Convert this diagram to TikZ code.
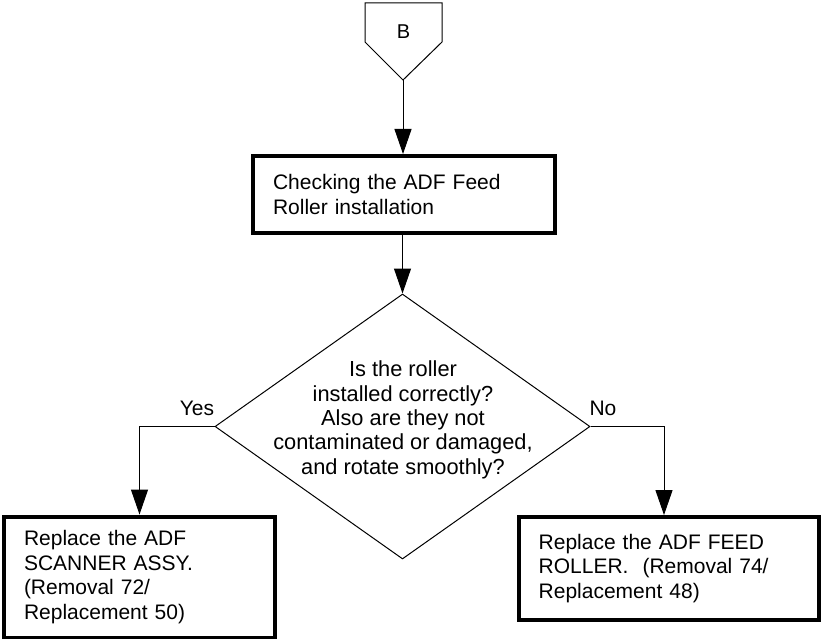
\documentclass[tikz,border=0pt]{standalone}
\usepackage{fontspec}
\setmainfont{Liberation Sans}
\usetikzlibrary{arrows.meta,shapes.geometric,calc}
\begin{document}
\begin{tikzpicture}[x=1pt,y=-1pt,
  every node/.style={font=\fontsize{21}{24.5}\selectfont},
  procbox/.style={draw,line width=4pt,inner xsep=20pt,inner ysep=0pt,align=left},
  flow/.style={line width=1pt,-{Triangle[length=25pt,width=17pt]}},
  plain/.style={line width=1pt},
  lbl/.style={anchor=base}
]
\useasboundingbox (0,0) rectangle (821,639);
% off-page connector B
\coordinate (btl) at (365,3);
\coordinate (btr) at (442,3);
\coordinate (bsr) at (442,42);
\coordinate (btip) at (403,80);
\coordinate (bsl) at (365,42);
\draw[plain] (btl) -- (btr) -- (bsr) -- (btip) -- (bsl) -- cycle;
\node[font=\fontsize{20}{22}\selectfont] (blbl) at (403.5,31.2) {B};
% boxes
\node[procbox, minimum width=302pt, minimum height=77pt, text width=262pt] (check) at (404,194.5) {Checking the ADF Feed\\Roller installation};
\node[draw, diamond, line width=1pt, minimum width=375pt, minimum height=265pt, inner sep=0pt] (dia) at (402.5,426.5) {};
\node[align=center, font=\fontsize{21.8}{24.3}\selectfont] (q) at (403,419.8) {Is the roller\\installed correctly?\\Also are they not\\contaminated or damaged,\\and rotate smoothly?};
\node[procbox, minimum width=271pt, minimum height=121.5pt, text width=231pt] (lbox) at (139.5,577.3) {Replace the ADF\\SCANNER ASSY.\\(Removal 72/\\Replacement 50)};
\node[procbox, minimum width=300pt, minimum height=102.5pt, text width=260pt] (rbox) at (668.7,568.3) {Replace the ADF FEED\\ROLLER.\ \ (Removal 74/\\Replacement 48)};
% connectors
\draw[flow] (btip) -- (btip |- check.north);
\draw[flow] (dia.north |- check.south) -- (dia.north);
\draw[flow] (dia.west) -| (lbox.north);
\coordinate (nbend) at (664,426.5);
\draw[flow] (dia.east) -- (nbend) -- (nbend |- rbox.north);
% labels
\node[lbl] (yes) at (197,415) {Yes};
\node[lbl] (no) at (603,415) {No};
\end{tikzpicture}
\end{document}
